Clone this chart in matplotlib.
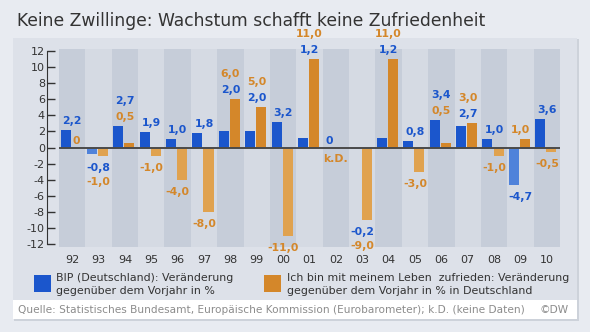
import numpy as np
import matplotlib
matplotlib.use("Agg")
import matplotlib.pyplot as plt
from matplotlib.patches import Rectangle

plt.rcParams['font.family'] = ['DejaVu Sans']
plt.rcParams['axes.unicode_minus'] = False

years = ['92', '93', '94', '95', '96', '97', '98', '99', '00', '01',
         '02', '03', '04', '05', '06', '07', '08', '09', '10']
# BIP change vs previous year in %
bip = [2.2, -0.8, 2.7, 1.9, 1.0, 1.8, 2.0, 2.0, 3.2, 1.2,
       0.0, -0.2, 1.2, 0.8, 3.4, 2.7, 1.0, -4.7, 3.6]
# life satisfaction change vs previous year in % (nan = k.D.)
zufrieden = [0.0, -1.0, 0.5, -1.0, -4.0, -8.0, 6.0, 5.0, -11.0, 11.0,
             np.nan, -9.0, 11.0, -3.0, 0.5, 3.0, -1.0, 1.0, -0.5]
yticks = list(range(-12, 13, 2))

blue, blue_neg = '#1b56cc', '#4f82da'
orange, orange_neg = '#d4872a', '#e0a24f'
text_col = '#333333'

W, H = 590, 332
fig = plt.figure(figsize=(W / 100, H / 100), dpi=100)
fig.patch.set_facecolor('#e8ebf1')

def px_rect(x0, y0, x1, y1, z, **kw):
    # rectangle given in pixel coords measured from the top left
    r = Rectangle((x0 / W, 1 - y1 / H), (x1 - x0) / W, (y1 - y0) / H,
                  transform=fig.transFigure, zorder=z, **kw)
    fig.patches.append(r)

# panel with shadow and white source strip
px_rect(14, 39, 579, 321, -3, facecolor='#cdd2da', edgecolor='none')
px_rect(12.5, 38, 577, 300, -2, facecolor='#dde1e9', edgecolor='none')
px_rect(12.5, 300, 577, 319, -2, facecolor='#ffffff', edgecolor='none')

fig.text(17 / W, 1 - 26 / H, 'Keine Zwillinge: Wachstum schafft keine Zufriedenheit',
         fontsize=12.3, color=text_col, va='baseline', ha='left')

ax = fig.add_axes([59 / W, 1 - 247 / H, 501 / W, 198 / H])
ax.set_facecolor('none')
n = len(years)
x = np.arange(n)
for i in range(n):
    ax.axvspan(i - 0.5, i + 0.5, color='#c6cdd9' if i % 2 == 0 else '#d5dae3',
               lw=0, zorder=0)

bw = 0.38
xb = x - 0.25
xo = x + 0.17
zv = np.nan_to_num(np.array(zufrieden))
ax.bar(xb, bip, bw, color=[blue if v >= 0 else blue_neg for v in bip], zorder=2)
ax.bar(xo, zv, bw, color=[orange if v >= 0 else orange_neg for v in zv], zorder=2)
ax.axhline(0, color='#4a4a4a', lw=1.4, zorder=3)

def fmt(v):
    return '0' if v == 0 else f'{v:.1f}'.replace('.', ',')

lab = dict(fontsize=7.8, fontweight='bold', ha='center', va='center',
           textcoords='offset pixels', zorder=4)
for i in range(n):
    items = [(bip[i], blue, xb[i]), (zufrieden[i], orange, xo[i])]
    pos, neg = [], []
    for v, c, xx in items:
        if np.isnan(v):
            ax.annotate('k.D.', (i, 0), xytext=(0, -11), color=c, **lab)
        elif v == 0:
            ax.annotate('0', (xx, 0), xytext=(0, 7), color=c, **lab)
        elif v > 0:
            pos.append((v, c))
        else:
            neg.append((v, c))
    # stack labels: shorter bar's label nearest the bars
    if pos:
        top = max(v for v, _ in pos)
        for k, (v, c) in enumerate(sorted(pos)):
            ax.annotate(fmt(v), (i, top), xytext=(0, 9 + 16 * k), color=c, **lab)
    if neg:
        bot = min(v for v, _ in neg)
        for k, (v, c) in enumerate(sorted(neg, reverse=True)):
            ax.annotate(fmt(v), (i, bot), xytext=(0, -12 - 14.5 * k), color=c, **lab)

ax.set_xlim(-0.5, n - 0.5)
ax.set_ylim(-12.37, 12.25)
ax.set_xticks(x)
ax.set_xticklabels(years)
ax.set_yticks(yticks)
ax.set_yticklabels([str(t) for t in yticks])
ax.tick_params(axis='x', length=0, pad=5.5, labelsize=8, labelcolor=text_col)
ax.tick_params(axis='y', direction='in', length=5.5, width=1, color='#333333',
               pad=1.5, labelsize=8, labelcolor=text_col)
for s in ['top', 'right', 'bottom']:
    ax.spines[s].set_visible(False)
ax.spines['left'].set_position(('outward', 12 * 0.72))
ax.spines['left'].set_bounds(-12, 12)
ax.spines['left'].set_color('#333333')

# legend
px_rect(34, 275, 51, 292, 2, facecolor=blue, edgecolor='none')
px_rect(264, 275, 281, 292, 2, facecolor=orange, edgecolor='none')
leg = dict(fontsize=7.95, color=text_col, ha='left', va='center')
fig.text(55.5 / W, 1 - 278 / H, 'BIP (Deutschland): Veränderung', **leg)
fig.text(55.5 / W, 1 - 290.5 / H, 'gegenüber dem Vorjahr in %', **leg)
fig.text(287 / W, 1 - 278 / H, 'Ich bin mit meinem Leben  zufrieden: Veränderung', **leg)
fig.text(287 / W, 1 - 290.5 / H, 'gegenüber dem Vorjahr in % in Deutschland', **leg)

src = dict(fontsize=7.6, color='#8c8c8c', va='center')
fig.text(17.5 / W, 1 - 310 / H,
         'Quelle: Statistisches Bundesamt, Europäische Kommission (Eurobarometer); k.D. (keine Daten)',
         ha='left', **src)
fig.text(569 / W, 1 - 310 / H, '©DW', ha='right', **src)

fig.savefig('out.png', dpi=100, facecolor=fig.get_facecolor())
